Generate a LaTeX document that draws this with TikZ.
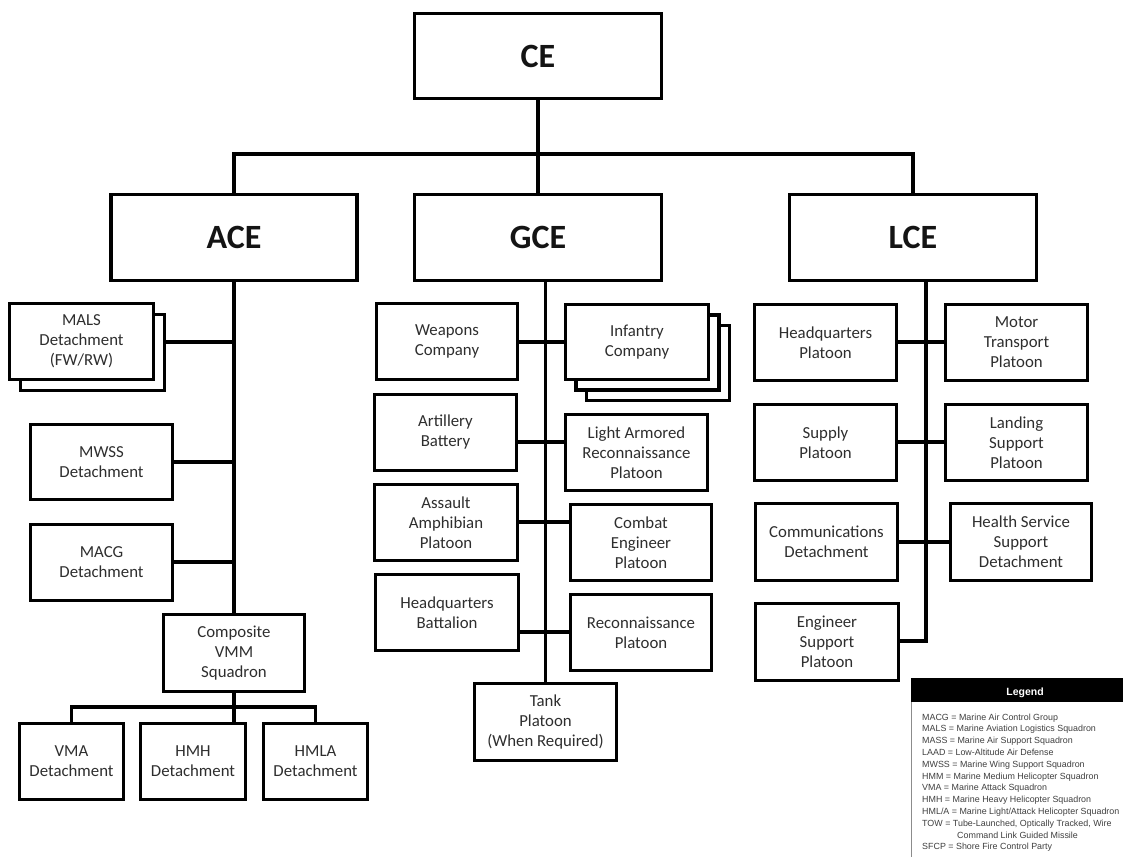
\documentclass[tikz,border=0pt]{standalone}
\usepackage{fontspec}
\setmainfont{Carlito}
\newfontfamily\legendfont{Liberation Sans}
\begin{document}
\begin{tikzpicture}[x=1pt,y=-1pt,
  wh/.style 2 args={minimum width=#1pt, minimum height=#2pt},
  unitbox/.style={draw=black, line width=3.2pt, fill=white, inner sep=1pt,
    align=center, text=black!82, font=\fontsize{16.8}{20}\selectfont},
  cmdbox/.style={draw=black, line width=3.4pt, fill=white, inner sep=1pt,
    text=black!92, font=\fontsize{34}{38}\selectfont\bfseries},
  wire/.style={draw=black, line width=3.2pt},
  legtext/.style={inner sep=0pt, anchor=north west, align=left, text=black!75,
    font=\legendfont\fontsize{8.9}{11.8}\selectfont}]

\path[use as bounding box, clip] (0,0) rectangle (1123,856);
\fill[white] (0,0) rectangle (1123,856);

% ---- command element and major subordinate elements
\node[cmdbox, wh={247}{85}] (CE)  at (538,56)    {CE};
\node[cmdbox, wh={246}{86}] (ACE) at (234,237.5) {ACE};
\node[cmdbox, wh={247}{86}] (GCE) at (538,237.5) {GCE};
\node[cmdbox, wh={247}{86}] (LCE) at (913,237.5) {LCE};

% ---- aviation combat element
\node[unitbox, wh={144}{76}] (mals2) at (92.5,352.5) {};
\node[unitbox, wh={144}{76}] (mals)  at (81.5,341.5) {MALS\\Detachment\\(FW/RW)};
\node[unitbox, wh={142}{75}] (mwss)  at (101.5,462)  {MWSS\\Detachment};
\node[unitbox, wh={142}{76}] (macg)  at (101.5,562.5) {MACG\\Detachment};
\node[unitbox, wh={141}{77}] (vmm)   at (234,653)    {Composite\\VMM\\Squadron};
\node[unitbox, wh={104}{76}] (vma)   at (71.5,761.5) {VMA\\Detachment};
\node[unitbox, wh={105}{76}] (hmh)   at (193,761.5)  {HMH\\Detachment};
\node[unitbox, wh={104}{76}] (hmla)  at (315.5,761.5) {HMLA\\Detachment};

% ---- ground combat element
\node[unitbox, wh={141}{76}] (wpns)  at (447,341.5)   {Weapons\\Company};
\node[unitbox, wh={143}{75}] (inf3)  at (658,363)     {};
\node[unitbox, wh={143}{75}] (inf2)  at (647.5,352.5) {};
\node[unitbox, wh={143}{75}] (inf)   at (637,342)     {Infantry\\Company};
\node[unitbox, wh={142}{76}] (arty)  at (445.5,432.5) {Artillery\\Battery};
\node[unitbox, wh={142}{76}] (lar)   at (636.5,452.5) {Light Armored\\Reconnaissance\\Platoon};
\node[unitbox, wh={143}{76}] (aa)    at (446,522.5)   {Assault\\Amphibian\\Platoon};
\node[unitbox, wh={141}{76}] (ce)    at (641,542.5)   {Combat\\Engineer\\Platoon};
\node[unitbox, wh={143}{76}] (hqbn)  at (447,612.5)   {Headquarters\\Battalion};
\node[unitbox, wh={141}{76}] (recon) at (641,632.5)   {Reconnaissance\\Platoon};
\node[unitbox, wh={142}{77}] (tank)  at (545.5,722)   {Tank\\Platoon\\(When Required)};

% ---- logistics combat element
\node[unitbox, wh={142}{76}] (hqp)   at (825.5,342.5)  {Headquarters\\Platoon};
\node[unitbox, wh={142}{76}] (mt)    at (1016.5,342.5) {Motor\\Transport\\Platoon};
\node[unitbox, wh={142}{76}] (sup)   at (825.5,442.5)  {Supply\\Platoon};
\node[unitbox, wh={142}{76}] (ls)    at (1016.5,442.5) {Landing\\Support\\Platoon};
\node[unitbox, wh={142}{77}] (comm)  at (826.5,542)    {Communications\\Detachment};
\node[unitbox, wh={141}{77}] (hss)   at (1021,542)     {Health Service\\Support\\Detachment};
\node[unitbox, wh={143}{77}] (esp)   at (827,642)      {Engineer\\Support\\Platoon};

% ---- junction points on the spines
\coordinate (bus) at (538,154);
\coordinate (a1) at (234,342);
\coordinate (a2) at (234,462);
\coordinate (a3) at (234,562);
\coordinate (abus) at (234,707);
\coordinate (g1) at (545.5,342);
\coordinate (g2) at (545.5,442);
\coordinate (g3) at (545.5,522);
\coordinate (g4) at (545.5,632);
\coordinate (l1) at (926,342);
\coordinate (l2) at (926,442);
\coordinate (l3) at (926,542);
\coordinate (l4) at (926,641);

% ---- top level connectors
\draw[wire] (CE.south) -- (GCE.north);
\draw[wire] (ACE.north) |- (bus) -| (LCE.north);

% ---- ACE spine and branches
\draw[wire] (ACE.south) -- (vmm.north);
\draw[wire] (mals2.east |- a1) -- (a1);
\draw[wire] (mwss.east |- a2) -- (a2);
\draw[wire] (macg.east |- a3) -- (a3);
\draw[wire] (vmm.south) -- (vmm.south |- hmh.north);
\draw[wire] (vma.north) |- (abus) -| (hmla.north);

% ---- GCE spine and branches
\draw[wire] (GCE.south -| tank.north) -- (tank.north);
\draw[wire] (wpns.east |- g1) -- (inf.west |- g1);
\draw[wire] (arty.east |- g2) -- (lar.west |- g2);
\draw[wire] (aa.east |- g3) -- (ce.west |- g3);
\draw[wire] (hqbn.east |- g4) -- (recon.west |- g4);

% ---- LCE spine and branches
\draw[wire] (LCE.south -| l4) -- (l4) -- (esp.east |- l4);
\draw[wire] (hqp.east |- l1) -- (mt.west |- l1);
\draw[wire] (sup.east |- l2) -- (ls.west |- l2);
\draw[wire] (comm.east |- l3) -- (hss.west |- l3);

% ---- legend (runs past the right and bottom edges of the page)
\node[draw=black!45, line width=1pt, fill=white, anchor=north west, wh={228}{200}, inner sep=0pt] (legbox) at (911,678) {};
\node[fill=black, anchor=north west, wh={229}{24}, inner sep=0pt] (leghead) at (910.5,677.5) {};
\node[text=white, font=\legendfont\bfseries\fontsize{10.5}{12}\selectfont] (legtitle) at (1025,692.5) {Legend};
\node[legtext] (legbody) at (922,713.5) {%
MACG = Marine Air Control Group\\
MALS = Marine Aviation Logistics Squadron\\
MASS = Marine Air Support Squadron\\
LAAD = Low-Altitude Air Defense\\
MWSS = Marine Wing Support Squadron\\
HMM = Marine Medium Helicopter Squadron\\
VMA = Marine Attack Squadron\\
HMH = Marine Heavy Helicopter Squadron\\
HML/A = Marine Light/Attack Helicopter Squadron\\
TOW = Tube-Launched, Optically Tracked, Wire\\
\hspace*{35pt}Command Link Guided Missile\\
SFCP = Shore Fire Control Party};
\end{tikzpicture}
\end{document}
